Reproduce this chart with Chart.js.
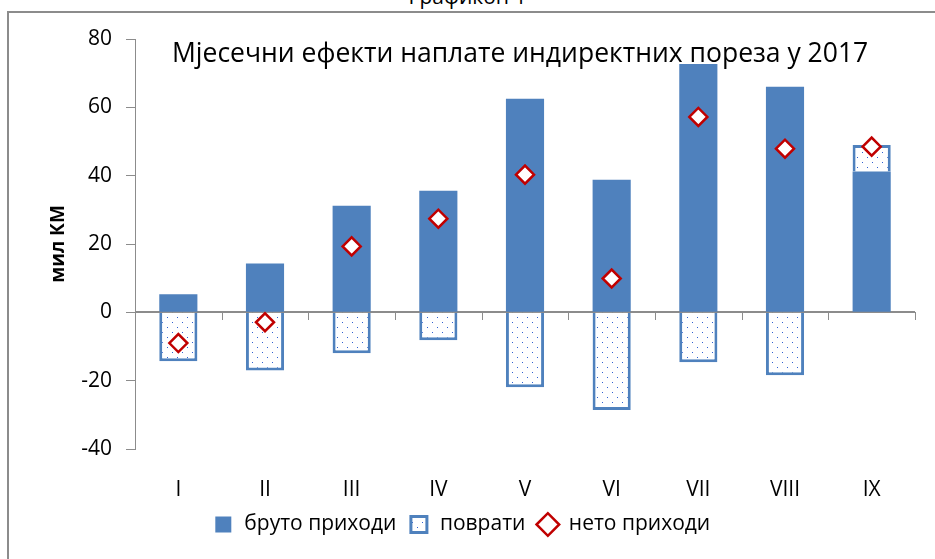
<!DOCTYPE html>
<html>
<head>
<meta charset="utf-8">
<script src="https://cdn.jsdelivr.net/npm/chart.js@4"></script>
<style>
  body { margin: 0; background: #fff; overflow: hidden; }
  #wrap { position: relative; width: 935px; height: 559px; overflow: hidden; }
  #frame { position: absolute; left: 7px; top: 11px; width: 1000px; height: 1000px; border: 2px solid #8c8c8c; }
  #fig { position: absolute; left: 0; top: -18px; width: 935px; text-align: center; font: 21px 'Open Sans'; color: #000; }
  #title { position: absolute; left: 172px; top: 34px; white-space: nowrap; font: 26.5px 'Open Sans'; color: #000; }
  canvas { position: absolute; left: 0; top: 0; }
</style>
</head>
<body>
<div id="wrap">
  <div id="fig">Графикон 1</div>
  <div id="frame"></div>
  <canvas id="chart" width="935" height="559"></canvas>
  <div id="title">Мјесечни ефекти наплате индиректних пореза у 2017</div>
</div>
<script>
// ---- Data ----
const months      = ['I', 'II', 'III', 'IV', 'V', 'VI', 'VII', 'VIII', 'IX'];
const grossIncome = [5.3, 14.3, 31.2, 35.6, 62.5, 38.8, 72.7, 66.0, 41.2];
const refunds     = [-14.3, -17.0, -12.0, -8.2, -21.9, -28.6, -14.6, -18.4, 7.8];
const netIncome   = [-9.0, -2.9, 19.3, 27.4, 40.3, 9.9, 57.2, 47.9, 48.5];
const yTicks      = [-40, -20, 0, 20, 40, 60, 80];

const BLUE = '#4F81BD';
const RED = '#C00000';
const AXIS = '#8c8c8c';
const FONT = 'Open Sans';

// ---- Dotted fill for refunds ----
function dotPattern() {
    const c = document.createElement('canvas');
    c.width = 10; c.height = 10;
    const g = c.getContext('2d');
    g.fillStyle = '#fff';
    g.fillRect(0, 0, 10, 10);
    g.fillStyle = '#3060d0';
    g.fillRect(2, 2, 1, 1);
    g.fillRect(7, 7, 1, 1);
    return g.createPattern(c, 'repeat');
}

// ---- Zero line with category ticks ----
const zeroAxis = {
    id: 'zeroAxis',
    beforeDatasetsDraw(chart) {
        const { ctx, scales: { x, y } } = chart;
        const y0 = Math.round(y.getPixelForValue(0));
        const step = x.width / months.length;
        ctx.save();
        ctx.strokeStyle = AXIS;
        ctx.lineWidth = 2;
        ctx.beginPath();
        ctx.moveTo(x.left, y0);
        ctx.lineTo(x.right, y0);
        ctx.stroke();
        ctx.lineWidth = 1;
        ctx.beginPath();
        for (let i = 1; i <= months.length; i++) {
            const px = Math.round(x.left + step * i) + 0.5;
            ctx.moveTo(px, y0);
            ctx.lineTo(px, y0 + 8);
        }
        ctx.stroke();
        ctx.restore();
    }
};

new Chart(document.getElementById('chart'), {
    data: {
        labels: months,
        datasets: [
            {
                type: 'bar',
                label: 'бруто приходи',
                data: grossIncome,
                backgroundColor: BLUE,
                borderWidth: 0,
                pointStyle: 'rect',
                stack: 'bars',
                order: 1
            },
            {
                type: 'bar',
                label: 'поврати',
                data: refunds,
                backgroundColor: dotPattern(),
                borderColor: BLUE,
                borderWidth: 3,
                pointStyle: 'rect',
                stack: 'bars',
                order: 1
            },
            {
                type: 'line',
                label: 'нето приходи',
                data: netIncome,
                showLine: false,
                pointStyle: 'rectRot',
                pointRadius: 9,
                pointBorderWidth: 2.5,
                pointBackgroundColor: '#fff',
                pointBorderColor: RED,
                borderColor: RED,
                backgroundColor: '#fff',
                stack: 'net',
                order: 0
            }
        ]
    },
    options: {
        responsive: false,
        animation: false,
        events: [],
        layout: { padding: { left: 8, right: 20, top: 39, bottom: 14 } },
        datasets: { bar: { categoryPercentage: 1, barPercentage: 0.44 } },
        scales: {
            x: {
                stacked: true,
                grid: { display: false },
                border: { display: false },
                ticks: { color: '#000', font: { family: FONT, size: 21 }, padding: 20 },
                afterFit: s => { s.height = 53; }
            },
            y: {
                stacked: true,
                min: -40, max: 80,
                afterBuildTicks: s => { s.ticks = yTicks.map(v => ({ value: v })); },
                afterFit: s => { s.width = 127; },
                grid: { drawOnChartArea: false, drawTicks: true, tickLength: 9, color: AXIS },
                border: { display: true, color: AXIS, width: 1 },
                ticks: { color: '#000', font: { family: FONT, size: 21 }, padding: 14 },
                title: {
                    display: true, text: 'мил КМ', color: '#000',
                    font: { family: FONT, size: 19, weight: 'bold' },
                    padding: { top: 39, bottom: 0 }
                }
            }
        },
        plugins: {
            legend: {
                position: 'bottom',
                labels: {
                    usePointStyle: true,
                    boxHeight: 16,
                    padding: 12,
                    color: '#000',
                    font: { family: FONT, size: 21 },
                    sort: (a, b) => a.datasetIndex - b.datasetIndex
                }
            },
            tooltip: { enabled: false }
        }
    },
    plugins: [zeroAxis]
});
</script>
</body>
</html>
